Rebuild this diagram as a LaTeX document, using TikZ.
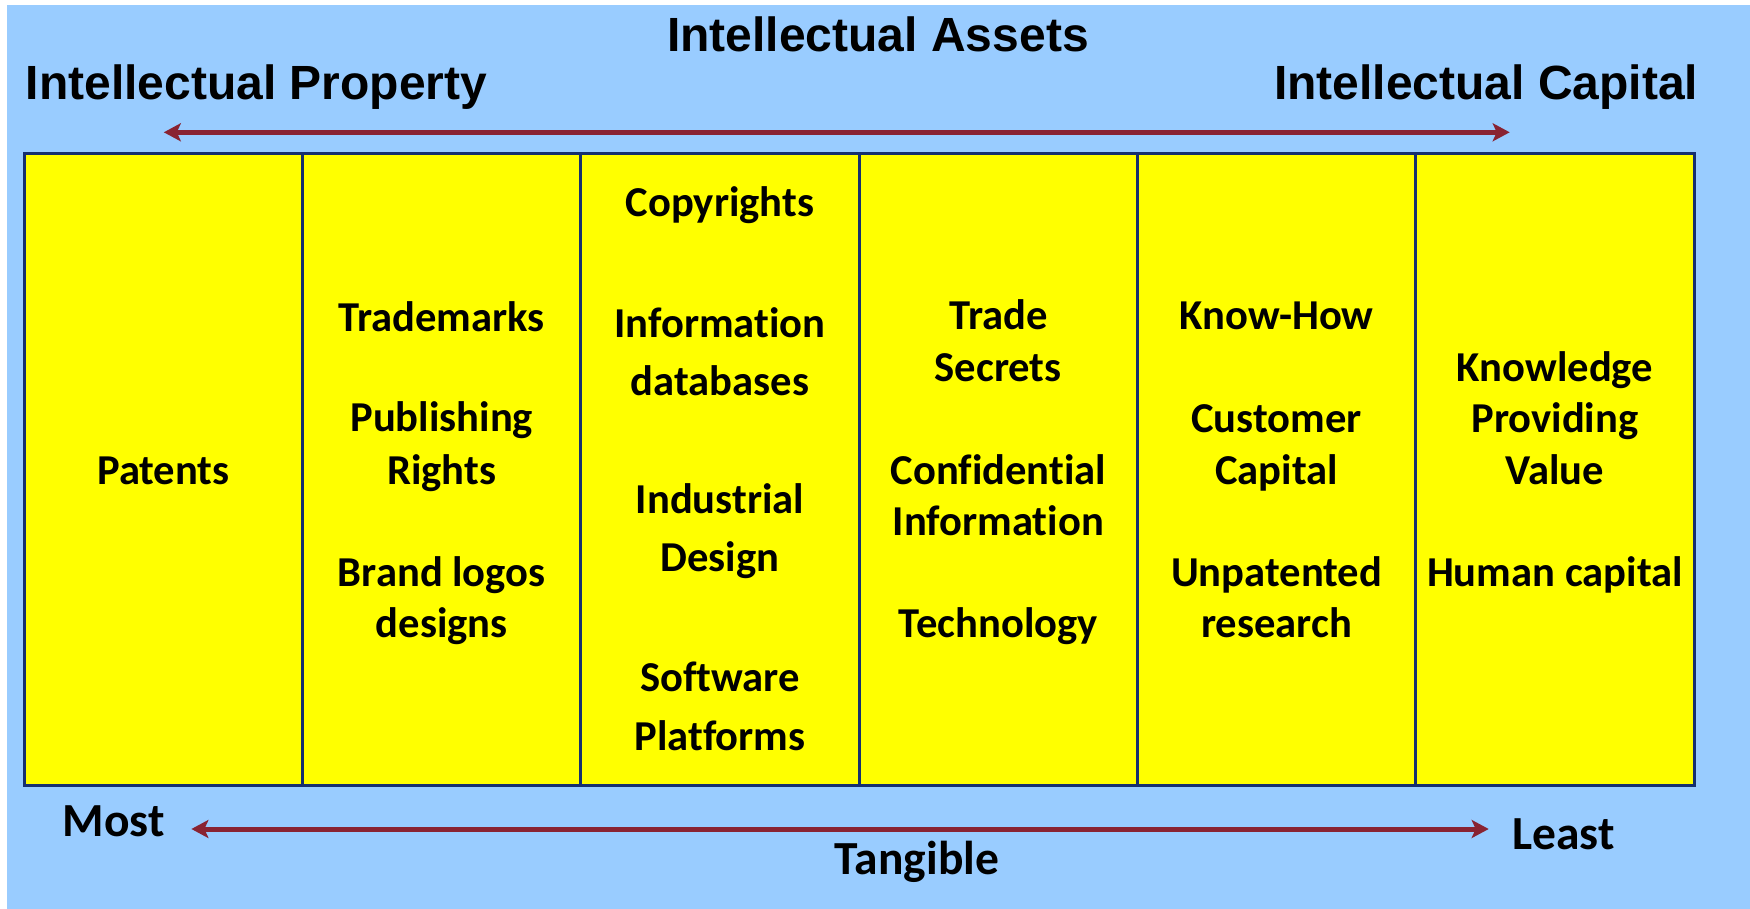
\documentclass[tikz,border=0pt]{standalone}
\usepackage{fontspec}
\setmainfont{Carlito}[Ligatures={NoCommon,NoRequired,NoContextual}]
\newfontfamily\headfont{Liberation Sans}
\usetikzlibrary{arrows.meta}
\definecolor{bgblue}{RGB}{153,204,255}
\definecolor{boxyellow}{RGB}{255,255,0}
\definecolor{boxline}{RGB}{22,48,110}
\definecolor{arrowred}{RGB}{137,35,50}
\tikzset{
  colbox/.style={draw=boxline, line width=3pt, fill=boxyellow, rectangle,
    minimum width=278.3pt, minimum height=631pt, inner sep=0pt, outer sep=0pt},
  item/.style={font=\fontsize{42.6}{50}\selectfont\bfseries, anchor=base, inner sep=0pt, text=black},
  headtxt/.style={font=\headfont\fontsize{48}{56}\selectfont\bfseries, inner sep=0pt, text=black},
  foottxt/.style={font=\fontsize{47.5}{54}\selectfont\bfseries, inner sep=0pt, text=black},
  scale arrow/.style={draw=arrowred, line width=5pt,
    {Stealth[length=17pt, width=18pt, inset=4pt]}-{Stealth[length=17pt, width=18pt, inset=4pt]}}
}
\begin{document}
\begin{tikzpicture}[x=1pt, y=-1pt]
\useasboundingbox (0,0) rectangle (1750,909);
\fill[white] (0,0) rectangle (1750,909);
\fill[bgblue] (7,5) rectangle (1750,909);

% columns
\node[colbox] (col1) at (163.44,469.5) {};
\node[colbox] (col2) at (441.72,469.5) {};
\node[colbox] (col3) at (720.00,469.5) {};
\node[colbox] (col4) at (998.30,469.5) {};
\node[colbox] (col5) at (1276.60,469.5) {};
\node[colbox] (col6) at (1554.90,469.5) {};

% headings
\node[headtxt, anchor=base] (assets) at (878,52) {Intellectual Assets};
\node[headtxt, anchor=base west] (ip) at (25.5,100) {Intellectual Property};
\node[headtxt, anchor=base east] (ic) at (1698.5,100) {Intellectual Capital};

% top arrow
\coordinate (tl) at (163.8,132.3);
\coordinate (tr) at (1509.7,132.3);
\draw[scale arrow] (tl) -- (tr);

% column 1
\node[item] (patents) at (163.44,484) {Patents};
% column 2
\node[item] (trademarks) at (441.72,331) {Trademarks};
\node[item] (publishing) at (441.72,431.5) {Publishing};
\node[item] (rights) at (441.72,484) {Rights};
\node[item] (brand) at (441.72,586.5) {Brand logos};
\node[item] (designs) at (441.72,637.5) {designs};
% column 3
\node[item] (copyrights) at (720,217) {Copyrights};
\node[item] (information) at (720,337) {Information};
\node[item] (databases) at (720,395) {databases};
\node[item] (industrial) at (720,513) {Industrial};
\node[item] (design) at (720,571.5) {Design};
\node[item] (software) at (720,691.5) {Software};
\node[item] (platforms) at (720,750) {Platforms};
% column 4
\node[item] (trade) at (998.3,329.5) {Trade};
\node[item] (secrets) at (998.3,381) {Secrets};
\node[item] (confidential) at (998.3,484) {Confidential};
\node[item] (information2) at (998.3,535) {Information};
\node[item] (technology) at (998.3,637.5) {Technology};
% column 5
\node[item] (knowhow) at (1276.6,329.5) {Know-How};
\node[item] (customer) at (1276.6,432) {Customer};
\node[item] (capital) at (1276.6,484) {Capital};
\node[item] (unpatented) at (1276.6,586) {Unpatented};
\node[item] (research) at (1276.6,637) {research};
% column 6
\node[item] (knowledge) at (1554.9,381) {Knowledge};
\node[item] (providing) at (1554.9,432) {Providing};
\node[item] (value) at (1554.9,484) {Value};
\node[item] (human) at (1554.9,586) {Human capital};

% bottom
\node[foottxt, anchor=base west] (most) at (62.5,836) {Most};
\node[foottxt, anchor=base west] (least) at (1512,849) {Least};
\node[foottxt, anchor=base] (tangible) at (917,874) {Tangible};
\coordinate (bl) at (191.4,829);
\coordinate (br) at (1488.7,829);
\draw[scale arrow] (bl) -- (br);
\end{tikzpicture}
\end{document}
